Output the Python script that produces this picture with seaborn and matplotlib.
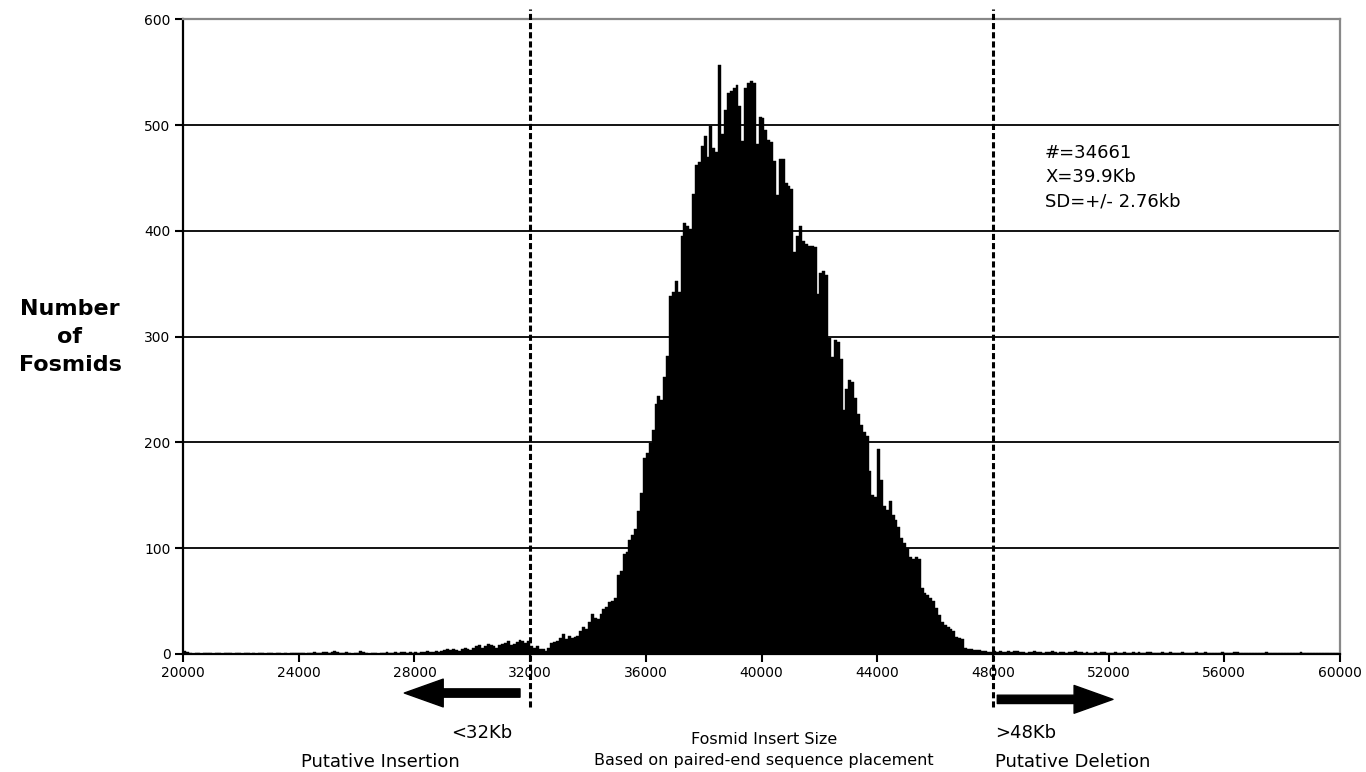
import numpy as np
import pandas as pd
import matplotlib
matplotlib.use('Agg')
import matplotlib.pyplot as plt
import seaborn as sns

# fosmid counts per 100 bp bin, 20000-60000
left_tail = [3, 2, 1, 0, 1, 1, 0, 1, 1, 1, 0, 1, 1, 0, 1, 1, 1, 0, 1, 1,
             0, 1, 1, 0, 1, 0, 1, 1, 0, 1, 1, 0, 1, 1, 0, 1, 0, 1, 1, 1,
             1, 1, 0, 1, 1, 2, 1, 1, 2, 2, 1, 2, 3, 2, 1, 1, 2, 1, 0, 1,
             1, 3, 2, 1, 0, 1, 1, 0, 1, 1, 2, 1, 1, 2, 1, 2, 2, 1, 2, 1,
             2, 1, 2, 2, 3, 2, 2, 3, 2, 3, 4, 5, 4, 5, 4, 3, 5, 6, 5, 4,
             6, 7, 8, 6, 7, 9, 8, 7, 6, 8, 9, 10, 12, 8, 9, 11, 13, 12, 10, 12]
core = [7, 6, 7, 5, 5, 3, 6, 10, 11, 12, 15, 19, 14, 17, 15, 16, 17, 22, 25, 24,
        30, 38, 34, 33, 38, 42, 44, 49, 50, 53, 75, 78, 94, 96, 108, 112, 118, 135, 152, 185,
        190, 199, 212, 236, 244, 240, 262, 282, 338, 342, 353, 342, 395, 407, 405, 402, 435, 462, 465, 480,
        490, 470, 499, 478, 475, 557, 492, 514, 530, 532, 535, 538, 518, 485, 535, 540, 542, 540, 482, 508,
        507, 495, 486, 484, 466, 434, 468, 468, 445, 442, 440, 380, 395, 405, 390, 388, 386, 386, 385, 340,
        360, 362, 358, 299, 281, 297, 295, 279, 231, 250, 259, 257, 242, 227, 216, 210, 206, 173, 150, 148,
        194, 164, 140, 136, 145, 131, 127, 120, 110, 105, 100, 92, 90, 92, 90, 62, 58, 56, 53, 50,
        43, 37, 30, 27, 25, 24, 22, 16, 15, 14, 6, 5, 5, 4, 4, 4, 3, 3, 2, 2]
right_tail = [3, 2, 3, 2, 2, 3, 2, 3, 3, 2, 2, 1, 2, 2, 3, 2, 2, 1, 2, 2,
              3, 2, 1, 2, 2, 1, 2, 2, 3, 2, 2, 1, 2, 1, 1, 2, 1, 2, 2, 1,
              1, 1, 2, 1, 1, 2, 1, 1, 2, 1, 2, 1, 1, 2, 2, 1, 1, 1, 2, 1,
              1, 2, 1, 1, 1, 2, 1, 1, 1, 1, 2, 1, 1, 2, 1, 1, 1, 1, 1, 2,
              1, 1, 1, 2, 2, 1, 1, 1, 1, 1, 1, 1, 1, 1, 2, 1, 1, 1, 1, 1,
              1, 1, 1, 1, 1, 1, 2, 1, 1, 1, 1, 1, 1, 1, 1, 1, 1, 1, 1, 1]

counts = left_tail + core + right_tail
edges = list(range(20000, 60001, 100))
df = pd.DataFrame({'size': [e + 50 for e in edges[:-1]], 'count': counts})

x_ticks = list(range(20000, 60001, 4000))
y_ticks = list(range(0, 601, 100))
stats_text = "#=34661\nX=39.9Kb\nSD=+/- 2.76kb"

sns.set_style('white')
plt.rcParams['font.family'] = ['DejaVu Sans']
plt.rcParams['text.color'] = 'black'
plt.rcParams['xtick.color'] = 'black'
plt.rcParams['ytick.color'] = 'black'

fig = plt.figure(figsize=(13.66, 7.72), dpi=100)
ax = fig.add_axes([0.134, 0.153, 0.847, 0.822])

sns.histplot(data=df, x='size', weights='count', bins=edges, color='black',
             alpha=1, edgecolor='black', linewidth=0.3, ax=ax, zorder=2)

for y in y_ticks[1:-1]:
    ax.axhline(y, color='black', lw=1.3, zorder=1)

ax.set_xlim(20000, 60000)
ax.set_ylim(0, 600)
ax.set_xticks(x_ticks)
ax.set_yticks(y_ticks)
ax.set_xlabel('')
ax.set_ylabel('')
ax.tick_params(axis='both', bottom=True, left=True, direction='out', length=6,
               width=1.5, labelsize=10, pad=3)

for s in ['left', 'bottom']:
    ax.spines[s].set_color('black')
    ax.spines[s].set_linewidth(1.6)
for s in ['top', 'right']:
    ax.spines[s].set_color('#888888')
    ax.spines[s].set_linewidth(1.6)

# cut-off lines and arrows
for xc in [32000, 48000]:
    ax.plot([xc, xc], [-50, 610], color='black', lw=2.2, ls=(0, (2, 1)),
            clip_on=False, zorder=5)
arrow_style = dict(width=6, headwidth=20, headlength=28, color='black', shrink=0)
ax.annotate('', xy=(27650, -37), xytext=(31650, -37), annotation_clip=False,
            arrowprops=arrow_style)
ax.annotate('', xy=(52150, -43), xytext=(48150, -43), annotation_clip=False,
            arrowprops=arrow_style)

fig.text(512 / 1366, 1 - 733 / 772, '<32Kb', ha='right', va='center', fontsize=13)
fig.text(380 / 1366, 1 - 762 / 772, 'Putative Insertion', ha='center', va='center', fontsize=13)
fig.text(995 / 1366, 1 - 733 / 772, '>48Kb', ha='left', va='center', fontsize=13)
fig.text(995 / 1366, 1 - 762 / 772, 'Putative Deletion', ha='left', va='center', fontsize=13)
fig.text(764 / 1366, 1 - 740 / 772, 'Fosmid Insert Size', ha='center', va='center', fontsize=11.5)
fig.text(764 / 1366, 1 - 761 / 772, 'Based on paired-end sequence placement', ha='center', va='center', fontsize=11.5)

fig.text(70 / 1366, 1 - 337 / 772, 'Number\nof\nFosmids', ha='center', va='center',
         fontsize=16, fontweight='bold', linespacing=1.5)
ax.text(1045 / 1366, 1 - 177 / 772, stats_text, transform=fig.transFigure,
        ha='left', va='center', fontsize=13, linespacing=1.45)

fig.savefig('out.png', dpi=100)
